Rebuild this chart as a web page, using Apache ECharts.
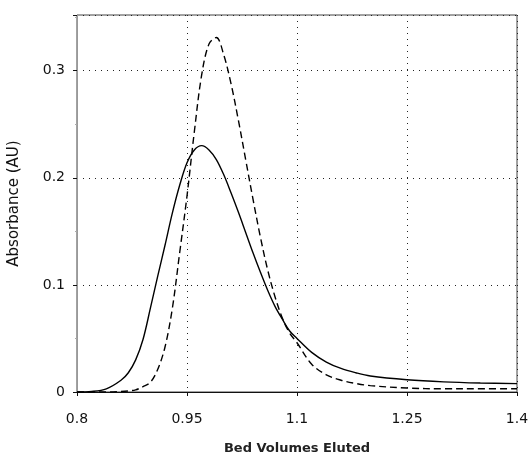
<!DOCTYPE html>
<html>
<head>
<meta charset="utf-8">
<script src="https://cdn.jsdelivr.net/npm/echarts@6/dist/echarts.min.js"></script>
<style>
    html, body { margin: 0; padding: 0; background: #fff; }
    #chart { width: 530px; height: 457px; }
</style>
</head>
<body>
<div id="chart"></div>
<script>
// bed volumes (x) shared by both curves
var volumes = [0.80, 0.82, 0.84, 0.86, 0.87, 0.88, 0.89, 0.90, 0.91, 0.92, 0.93, 0.94, 0.95,
    0.96, 0.97, 0.98, 0.99, 1.00, 1.01, 1.02, 1.03, 1.04, 1.05, 1.06, 1.07, 1.08, 1.09, 1.10,
    1.12, 1.14, 1.16, 1.18, 1.20, 1.25, 1.30, 1.35, 1.40];

// solid curve
var solidAbs = [0, 0.0005, 0.003, 0.011, 0.018, 0.030, 0.049, 0.078, 0.108, 0.137, 0.167, 0.193, 0.214,
    0.226, 0.230, 0.226, 0.217, 0.203, 0.186, 0.168, 0.149, 0.130, 0.112, 0.095, 0.080, 0.068, 0.057, 0.050,
    0.037, 0.028, 0.022, 0.018, 0.015, 0.0115, 0.0095, 0.0084, 0.0078];

// dashed curve
var dashedAbs = [0, 0, 0, 0.0005, 0.001, 0.002, 0.005, 0.009, 0.021, 0.042, 0.078, 0.130, 0.183,
    0.243, 0.296, 0.325, 0.331, 0.315, 0.288, 0.254, 0.217, 0.180, 0.145, 0.114, 0.089, 0.069, 0.055, 0.046,
    0.026, 0.016, 0.011, 0.008, 0.006, 0.0037, 0.003, 0.003, 0.003];

// axis ticks
var xStart = 0.8;     // x axis begins here, ticks every 0.15 from it
var xTicks = [0.8, 0.95, 1.1, 1.25, 1.4];
var yTicks = [0, 0.1, 0.2, 0.3];

var font = 'DejaVu Sans';

// x axis runs from 0, so shift values by xStart
function toPoints(xs, ys) {
    var pts = [];
    for (var i = 0; i < xs.length; i++) {
        pts.push([xs[i] - xStart, ys[i]]);
    }
    return pts;
}

function fmt(v) {
    return String(Number(v.toFixed(3)));
}

var myChart = echarts.init(document.getElementById('chart'));

var option = {
    animation: false,
    backgroundColor: '#fff',
    grid: {
        left: 77, right: 13, top: 15, bottom: 65,
        outerBoundsMode: 'none',
        containLabel: false,
        show: true, borderColor: '#444', borderWidth: 1
    },
    xAxis: {
        type: 'value',
        min: 0,
        max: xTicks[xTicks.length - 1] - xStart,
        interval: 0.15,
        name: 'Bed Volumes Eluted',
        nameLocation: 'middle',
        nameGap: 50,
        nameTextStyle: { fontFamily: font, fontSize: 13, fontWeight: 'bold', color: '#222' },
        axisLine: { show: true, lineStyle: { color: '#111', width: 1 } },
        axisTick: { show: true, length: 4, lineStyle: { color: '#111' } },
        axisLabel: {
            margin: 20,
            fontFamily: font, fontSize: 14, color: '#111',
            formatter: function(v) { return fmt(v + xStart); }
        },
        splitLine: { show: true, lineStyle: { color: '#222', type: [1, 5], width: 1 } }
    },
    yAxis: {
        type: 'value',
        min: 0,
        max: 0.352,
        interval: 0.1,
        name: 'Absorbance (AU)',
        nameLocation: 'middle',
        nameGap: 55,
        nameTextStyle: { fontFamily: font, fontSize: 15, color: '#111' },
        axisLine: { show: true, lineStyle: { color: '#999', width: 1 } },
        axisTick: { show: true, length: 4, lineStyle: { color: '#111' } },
        minorTick: { show: true, splitNumber: 2, length: 2, lineStyle: { color: '#aaa' } },
        axisLabel: {
            margin: 12,
            fontFamily: font, fontSize: 14, color: '#111',
            formatter: function(v) {
                for (var i = 0; i < yTicks.length; i++) {
                    if (Math.abs(v - yTicks[i]) < 1e-6) return fmt(yTicks[i]);
                }
                return '';
            }
        },
        splitLine: { show: true, lineStyle: { color: '#222', type: [1, 5], width: 1 } }
    },
    series: [
        {
            type: 'line',
            data: toPoints(volumes, solidAbs),
            showSymbol: false,
            smooth: 0.35,
            lineStyle: { color: '#000', width: 1.4, type: 'solid' }
        },
        {
            type: 'line',
            data: toPoints(volumes, dashedAbs),
            showSymbol: false,
            smooth: 0.35,
            lineStyle: { color: '#000', width: 1.4, type: [7, 4] }
        }
    ]
};

myChart.setOption(option, true);
</script>
</body>
</html>
